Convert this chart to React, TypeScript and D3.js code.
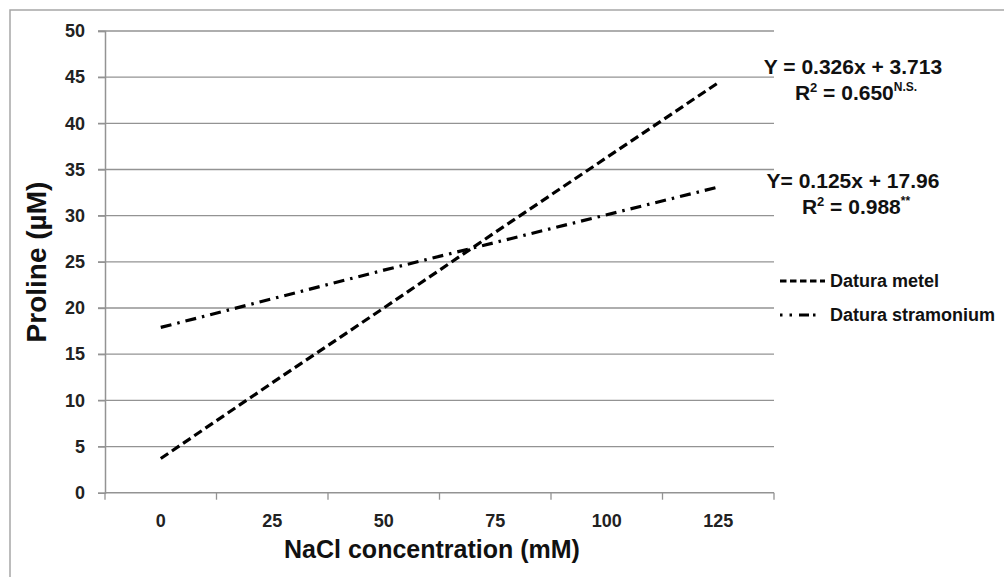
import React, {useEffect, useRef} from "react";
import * as d3 from "d3";

// NaCl levels (mM) and proline (µM)
const categories = ["0", "25", "50", "75", "100", "125"];
const metel = [3.7, 11.9, 20.0, 28.2, 36.3, 44.4];
const stramonium = [17.9, 21.0, 24.1, 27.1, 30.1, 33.1];
const yTicks = [0, 5, 10, 15, 20, 25, 30, 35, 40, 45, 50];
const seriesNames = ["Datura metel", "Datura stramonium"];

const W = 1004;
const H = 577;
const FONT = "'Liberation Sans', Arial, sans-serif";

const App = () => {
    const ref = useRef<SVGSVGElement>(null);

    useEffect(() => {
        const svg = d3.select(ref.current);
        svg.selectAll("*").remove();

        const left = 105, right = 774, top = 31, bottom = 492.7;

        const x = d3.scaleBand().domain(categories).range([left, right]).paddingInner(0).paddingOuter(0);
        const y = d3.scaleLinear().domain([0, 50]).range([bottom, top]);
        const cx = (c: string) => (x(c) as number) + x.bandwidth() / 2;

        // outer frame, runs off the bottom/right of the picture
        svg.append("rect")
            .attr("x", 10).attr("y", 10)
            .attr("width", W + 20).attr("height", H + 20)
            .attr("fill", "white")
            .attr("stroke", "#a6a6a6")
            .attr("stroke-width", 1.5);

        // gridlines
        svg.append("g")
            .selectAll("line")
            .data(yTicks.filter(t => t > 0))
            .join("line")
            .attr("x1", left - 7).attr("x2", right)
            .attr("y1", d => y(d)).attr("y2", d => y(d))
            .attr("stroke", "#939393").attr("stroke-width", 1.3);

        // y axis
        const yAxis = d3.axisLeft(y).tickValues(yTicks).tickSize(7).tickPadding(13);
        const gy = svg.append("g").attr("transform", `translate(${left},0)`).call(yAxis);
        gy.attr("font-size", null).attr("font-family", null);
        gy.select(".domain").attr("stroke", "#939393").attr("stroke-width", 1.5);
        gy.selectAll(".tick line").attr("stroke", "#939393").attr("stroke-width", 1.3);
        gy.selectAll(".tick text")
            .attr("font-family", FONT).attr("font-size", 18).attr("font-weight", "bold")
            .attr("fill", "#222");

        // x axis: ticks between the categories
        svg.append("line")
            .attr("x1", left).attr("x2", right)
            .attr("y1", bottom).attr("y2", bottom)
            .attr("stroke", "#939393").attr("stroke-width", 1.5);
        const edges = categories.map(c => x(c) as number).concat([right]);
        svg.append("g")
            .selectAll("line")
            .data(edges)
            .join("line")
            .attr("x1", d => d).attr("x2", d => d)
            .attr("y1", bottom).attr("y2", bottom + 7)
            .attr("stroke", "#939393").attr("stroke-width", 1.3);
        svg.append("g")
            .selectAll("text")
            .data(categories)
            .join("text")
            .attr("x", d => cx(d))
            .attr("y", 527)
            .attr("text-anchor", "middle")
            .attr("font-family", FONT).attr("font-size", 18).attr("font-weight", "bold")
            .attr("fill", "#222")
            .text(d => d);

        // axis titles
        svg.append("text")
            .attr("x", 432).attr("y", 558)
            .attr("text-anchor", "middle")
            .attr("font-family", FONT).attr("font-size", 25).attr("font-weight", "bold")
            .attr("fill", "#111")
            .text("NaCl concentration (mM)");
        svg.append("text")
            .attr("transform", "translate(46,262) rotate(-90)")
            .attr("text-anchor", "middle")
            .attr("font-family", FONT).attr("font-size", 28).attr("font-weight", "bold")
            .attr("fill", "#111")
            .text("Proline (µM)");

        // series
        const line = d3.line<number>()
            .x((d, i) => cx(categories[i]))
            .y(d => y(d));
        const dashes = ["9,4.5", "11,6,2.5,6"];
        [metel, stramonium].forEach((s, k) => {
            svg.append("path")
                .datum(s)
                .attr("d", line)
                .attr("fill", "none")
                .attr("stroke", "#000")
                .attr("stroke-width", 3.2)
                .attr("stroke-dasharray", dashes[k]);
        });

        // legend
        const legY = [281, 315];
        seriesNames.forEach((name, k) => {
            svg.append("line")
                .attr("x1", 780).attr("x2", k === 0 ? 825 : 818)
                .attr("y1", legY[k]).attr("y2", legY[k])
                .attr("stroke", "#000").attr("stroke-width", 3)
                .attr("stroke-dasharray", k === 0 ? "6.5,3.5" : "2.5,7,2.5,7,10,4");
            svg.append("text")
                .attr("x", 830).attr("y", legY[k] + 6)
                .attr("font-family", FONT).attr("font-size", 18).attr("font-weight", "bold")
                .attr("fill", "#111")
                .text(name);
        });

        // regression equations
        const eq = [
            {eq: "Y = 0.326x + 3.713", r2: "0.650", sig: "N.S.", y: 74},
            {eq: "Y= 0.125x + 17.96", r2: "0.988", sig: "**", y: 188},
        ];
        eq.forEach(e => {
            svg.append("text")
                .attr("x", 853).attr("y", e.y)
                .attr("text-anchor", "middle")
                .attr("font-family", FONT).attr("font-size", 21).attr("font-weight", "bold")
                .attr("fill", "#111")
                .text(e.eq);
            const t = svg.append("text")
                .attr("x", 856).attr("y", e.y + 26)
                .attr("text-anchor", "middle")
                .attr("font-family", FONT).attr("font-size", 21).attr("font-weight", "bold")
                .attr("fill", "#111");
            t.append("tspan").text("R");
            t.append("tspan").attr("dy", -8).attr("font-size", 13).text("2");
            t.append("tspan").attr("dy", 8).text(" = " + e.r2);
            t.append("tspan").attr("dy", -9).attr("font-size", 12).text(e.sig);
        });
    }, []);

    return (
        <svg ref={ref} width={W} height={H}
             style={{position: "absolute", left: 0, top: 0, background: "white"}}/>
    );
};

export default App;
